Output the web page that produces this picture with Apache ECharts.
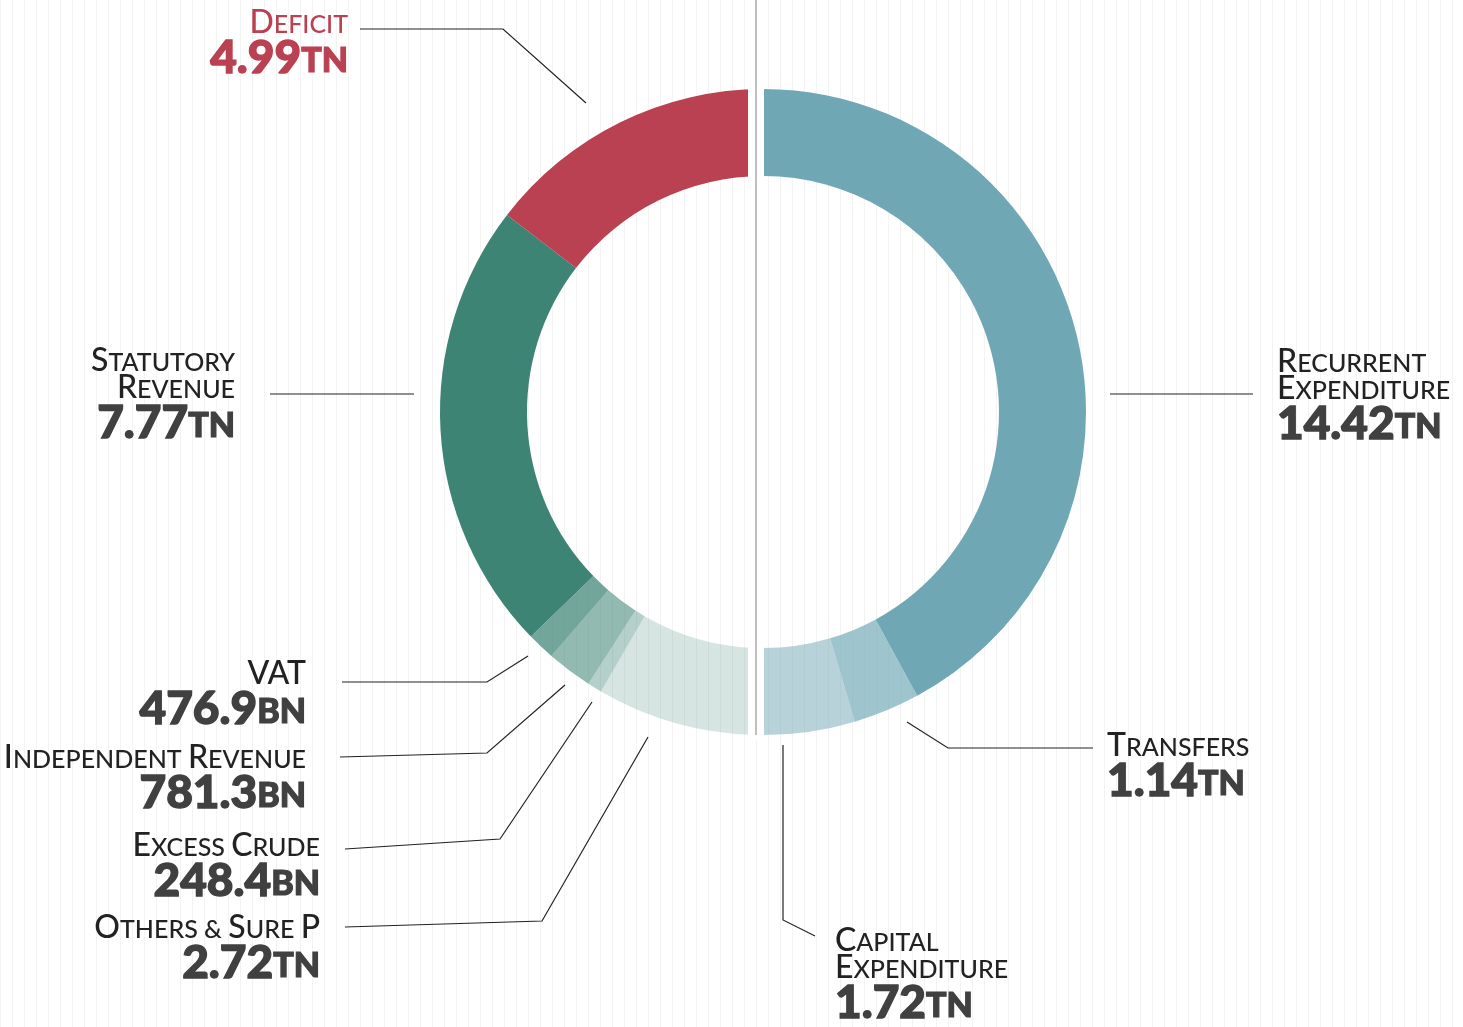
<!DOCTYPE html>
<html>
<head>
<meta charset="utf-8">
<title>Budget</title>
<script src="https://cdn.jsdelivr.net/npm/echarts@6.0.0/dist/echarts.min.js"></script>
<style>
html, body { margin: 0; padding: 0; background: #fff; }
#chart {
	width: 1463px;
	height: 1027px;
	background: repeating-linear-gradient(90deg, #f3f3f3 0, #f3f3f3 1px, transparent 1px, transparent 12px);
}
</style>
</head>
<body>
<div id="chart"></div>
<script>
// 数据 (values in trillions)
var revenueNames = ['Deficit', 'Statutory\nRevenue', 'VAT', 'Independent Revenue', 'Excess Crude', 'Others & Sure P'];
var revenueValues = [4.99, 7.77, 0.4769, 0.7813, 0.2484, 2.72];
var spendNames = ['Recurrent\nExpenditure', 'Transfers', 'Capital\nExpenditure'];
var spendValues = [14.42, 1.14, 1.72];

// 颜色
var revenueColors = ['#b94152', '#3d8474', 'rgba(61,132,116,0.72)', 'rgba(61,132,116,0.56)', 'rgba(61,132,116,0.38)', 'rgba(61,132,116,0.21)'];
var spendColors = ['#6fa7b4', 'rgba(111,167,180,0.67)', 'rgba(111,167,180,0.5)'];

// label anchor [x, top] and leader lines
var revenueLabelPos = [[348, 12], [235, 350], [306, 663], [306, 747], [320, 835], [320, 917]];
var revenueLines = [
	[[586, 103], [503, 29], [360, 29]],
	[[414, 394], [270, 394]],
	[[528, 656], [487, 682], [342, 682]],
	[[565, 685], [487, 753], [340, 757]],
	[[592, 702], [500, 839], [345, 849]],
	[[648, 737], [542, 921], [345, 927]]
];
var spendLabelPos = [[1277, 351], [1107, 735], [835, 930]];
var spendLines = [
	[[1110, 394], [1253, 394]],
	[[907, 722], [948, 748], [1093, 748]],
	[[783, 745], [783, 920], [815, 936]]
];

var FONT = 'Lato';

// 一个整圆: 支出顺时针在右, 收入接着回到顶部
var nRight = spendNames.length;
var pieNames = spendNames.concat(revenueNames.slice().reverse());
var pieValues = spendValues.concat(revenueValues.slice().reverse());
var pieColors = spendColors.concat(revenueColors.slice().reverse());
var pieLabelPos = spendLabelPos.concat(revenueLabelPos.slice().reverse());
var pieLines = spendLines.concat(revenueLines.slice().reverse());

// 模拟小型大写字母
function smallCaps(text, cap, sc) {
	var out = '', buf = '', cur = null;
	for (var i = 0; i < text.length; i++) {
		var ch = text.charAt(i);
		var st = (ch >= 'A' && ch <= 'Z') ? cap : sc;
		if (st !== cur) {
			if (buf) out += '{' + cur + '|' + buf + '}';
			buf = '';
			cur = st;
		}
		buf += ch.toUpperCase();
	}
	if (buf) out += '{' + cur + '|' + buf + '}';
	return out;
}

function valueText(v, num, unit) {
	if (v >= 1) return '{' + num + '|' + v.toFixed(2) + '}{' + unit + '|TN}';
	return '{' + num + '|' + (v * 1000).toFixed(1) + '}{' + unit + '|BN}';
}

function labelText(p) {
	var s = (p.dataIndex < nRight ? 'L' : 'R') + (p.name === 'Deficit' ? 'X' : '');
	var lines = p.name.split('\n').map(function (line) {
		return smallCaps(line, 'cap' + s, 'sc' + s);
	});
	lines.push(valueText(p.value, 'num' + s, 'unit' + s));
	return lines.join('\n');
}

function richStyles() {
	var r = {};
	[['L', 'left'], ['R', 'right']].forEach(function (a) {
		[['', '#222', '#404040'], ['X', '#b94152', '#b94152']].forEach(function (v) {
			var k = a[0] + v[0];
			r['cap' + k] = { fontFamily: FONT, fontWeight: 500, fontSize: 32, color: v[1], lineHeight: 27, align: a[1], verticalAlign: 'bottom' };
			r['sc' + k] = { fontFamily: FONT, fontWeight: 500, fontSize: 25, color: v[1], lineHeight: 27, align: a[1], verticalAlign: 'bottom', padding: [0, 0, 1.5, 0] };
			r['num' + k] = { fontFamily: FONT, fontWeight: 900, fontSize: 46, color: v[2], lineHeight: 42, align: a[1], verticalAlign: 'bottom',
				textBorderColor: v[2], textBorderWidth: 1.4 };
			r['unit' + k] = { fontFamily: FONT, fontWeight: 900, fontSize: 34, color: v[2], lineHeight: 42, align: a[1], verticalAlign: 'bottom', padding: [0, 0, 2.6, 0],
				textBorderColor: v[2], textBorderWidth: 1.2 };
		});
	});
	return r;
}

var pieData = pieNames.map(function (n, i) {
	return { name: n, value: pieValues[i], itemStyle: { color: pieColors[i] } };
});

var myChart = echarts.init(document.getElementById('chart'));

var option = {
	animation: false,
	series: [{
		name: 'Budget',
		type: 'pie',
		center: [763, 412],
		radius: [236, 323],
		startAngle: 90,
		clockwise: true,
		avoidLabelOverlap: false,
		silent: true,
		data: pieData,
		label: {
			show: true,
			position: 'outside',
			fontFamily: FONT,
			formatter: labelText,
			rich: richStyles()
		},
		labelLine: { show: true, smooth: false, lineStyle: { color: '#222', width: 1.2 } },
		labelLayout: function (params) {
			var i = params.dataIndex;
			var p = pieLabelPos[i];
			return {
				x: p[0], y: p[1],
				align: i < nRight ? 'left' : 'right',
				verticalAlign: 'top',
				labelLinePoints: pieLines[i]
			};
		}
	}],
	graphic: [
		// 中间的缝隙
		{ type: 'rect', z: 10, shape: { x: 748, y: 84, width: 16, height: 98 }, style: { fill: '#fff' } },
		{ type: 'rect', z: 10, shape: { x: 748, y: 642, width: 16, height: 98 }, style: { fill: '#fff' } },
		{ type: 'line', z: 11, shape: { x1: 756, y1: 0, x2: 756, y2: 735 }, style: { stroke: '#aaa', lineWidth: 1.5 } }
	]
};
myChart.setOption(option);
</script>
</body>
</html>
